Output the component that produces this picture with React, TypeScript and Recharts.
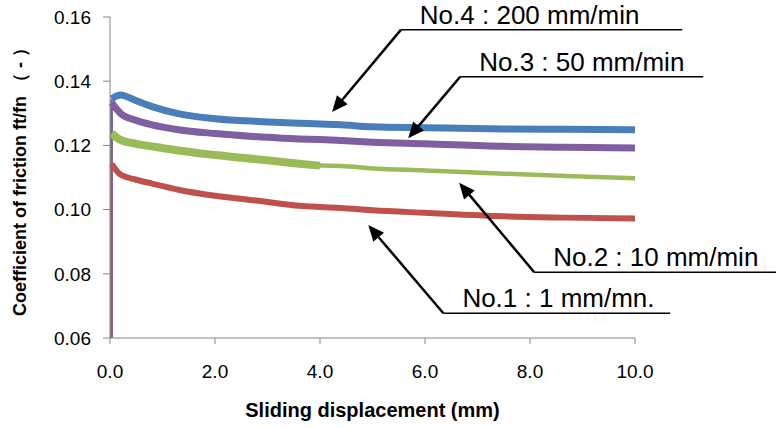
import { LineChart, Line, XAxis, YAxis, ReferenceLine, Label } from "recharts";

// sliding displacement (mm) where the curves were read
const dispMm = [0, 0.03, 0.2, 0.5, 0.8, 1.3, 2.0, 2.9, 3.6, 4.0, 4.4, 5.0, 6.0, 7.5, 8.7, 10];

// coefficient of friction ft/fn per speed
const no1 = [0.06, 0.1142, 0.1109, 0.1093, 0.1081, 0.1062, 0.1043, 0.1026, 0.1012, 0.1008, 0.1005, 0.0998, 0.099, 0.0979, 0.0975, 0.0972];
const no2 = [0.06, 0.1238, 0.1217, 0.1205, 0.1197, 0.1184, 0.117, 0.1155, 0.1143, 0.1137, 0.1136, 0.1128, 0.1122, 0.1112, 0.1105, 0.1098];
const no3 = [0.06, 0.1333, 0.13, 0.1278, 0.1264, 0.1249, 0.1237, 0.1226, 0.122, 0.1218, 0.1215, 0.121, 0.1205, 0.1197, 0.1194, 0.1192];
const no4 = [0.06, 0.1345, 0.1357, 0.1339, 0.1321, 0.1299, 0.1283, 0.1274, 0.1269, 0.1267, 0.1264, 0.1258, 0.1255, 0.1251, 0.125, 0.1249];

const xTicks = [0, 2, 4, 6, 8, 10];
const yTicks = [0.06, 0.08, 0.1, 0.12, 0.14, 0.16];

// callouts: underline from (x, y) to (x2, y), arrow from (x, y) to (tipX, tipY)
const notes = [
  { text: "No.4 : 200 mm/min", x: 5.54, y: 0.156, x2: 10.9, tipX: 4.23, tipY: 0.1304 },
  { text: "No.3 : 50 mm/min", x: 6.67, y: 0.1414, x2: 11.3, tipX: 5.68, tipY: 0.1222 },
  { text: "No.2 : 10 mm/min", x: 8.08, y: 0.0805, x2: 12.7, tipX: 6.65, tipY: 0.1084 },
  { text: "No.1 : 1 mm/mn.", x: 6.35, y: 0.0677, x2: 10.67, tipX: 4.92, tipY: 0.0952 },
];

// curves from the first reading on; the start-up rise is drawn separately as a thin line
const rows = dispMm.slice(1).map((x, j) => {
  const i = j + 1;
  return {
    x,
    no1: no1[i],
    no2a: x <= 4 ? no2[i] : null,
    no2b: x >= 4 ? no2[i] : null,
    no3: no3[i],
    no4: no4[i],
  };
});

const rise = (vals: number[]) => [
  { x: dispMm[1], v: vals[0] },
  { x: dispMm[1], v: vals[1] },
];

const FONT = "'Liberation Sans', Arial, sans-serif";
const AXIS = "#868686";
const RED = "#C0504D";
const GREEN = "#9BBB59";
const PURPLE = "#7F5FA0";
const BLUE = "#4A7EBB";

function Arrow(props: any) {
  const { x1, y1, x2, y2 } = props;
  const a = Math.atan2(y2 - y1, x2 - x1);
  const len = 16;
  const half = 7;
  const bx = x2 - len * Math.cos(a);
  const by = y2 - len * Math.sin(a);
  const px = -Math.sin(a) * half;
  const py = Math.cos(a) * half;
  return (
    <g>
      <line x1={x1} y1={y1} x2={bx} y2={by} stroke="#000" strokeWidth={2.5} />
      <polygon points={`${x2},${y2} ${bx + px},${by + py} ${bx - px},${by - py}`} fill="#000" />
    </g>
  );
}

function underline(text: string) {
  return (props: any) => {
    const { x1, y1, x2 } = props;
    return (
      <g>
        <line x1={x1} y1={y1} x2={x2} y2={y1} stroke="#000" strokeWidth={1.5} />
        <text x={x1 + 19} y={y1 - 6} fontSize={26} fill="#000" fontFamily={FONT}>
          {text}
        </text>
      </g>
    );
  };
}

export default function App() {
  return (
    <div style={{ position: "absolute", left: 0, top: 0, fontFamily: FONT, background: "#fff" }}>
      <LineChart width={776} height={428} data={rows} margin={{ top: 17, right: 141, bottom: 30, left: 0 }}>
        <XAxis
          dataKey="x"
          type="number"
          domain={[0, 10]}
          ticks={xTicks}
          tickFormatter={(v) => Number(v).toFixed(1)}
          stroke={AXIS}
          tickSize={6}
          tickMargin={21}
          height={60}
          tick={{ fill: "#000", fontSize: 19 }}
        >
          <Label
            content={({ viewBox }: any) => (
              <text
                x={viewBox.x + viewBox.width / 2}
                y={viewBox.y + 79}
                textAnchor="middle"
                fontSize={20}
                fontWeight="bold"
                fill="#000"
              >
                Sliding displacement (mm)
              </text>
            )}
          />
        </XAxis>
        <YAxis
          type="number"
          domain={[0.06, 0.16]}
          ticks={yTicks}
          tickFormatter={(v) => Number(v).toFixed(2)}
          stroke={AXIS}
          tickSize={7}
          tickMargin={12}
          width={110}
          tick={{ fill: "#000", fontSize: 19 }}
        >
          <Label
            content={({ viewBox }: any) => {
              const cx = 26;
              const cy = viewBox.y + viewBox.height / 2;
              return (
                <text
                  x={cx}
                  y={cy}
                  transform={`rotate(-90 ${cx} ${cy})`}
                  textAnchor="middle"
                  fontSize={18}
                  fontWeight="bold"
                  fill="#000"
                >
                  Coefficient of friction  ft/fn  （ - ）
                </text>
              );
            }}
          />
        </YAxis>
        <Line data={rise(no4)} dataKey="v" stroke={BLUE} strokeWidth={2.5} dot={false} isAnimationActive={false} />
        <Line data={rise(no2)} dataKey="v" stroke={GREEN} strokeWidth={2.5} dot={false} isAnimationActive={false} />
        <Line data={rise(no1)} dataKey="v" stroke={RED} strokeWidth={2.5} dot={false} isAnimationActive={false} />
        <Line data={rise(no3)} dataKey="v" stroke={PURPLE} strokeWidth={2.5} dot={false} isAnimationActive={false} />
        <Line type="monotone" dataKey="no1" stroke={RED} strokeWidth={6} dot={false} isAnimationActive={false} strokeLinejoin="round" />
        <Line type="monotone" dataKey="no2a" stroke={GREEN} strokeWidth={8} dot={false} isAnimationActive={false} strokeLinejoin="round" />
        <Line type="monotone" dataKey="no2b" stroke={GREEN} strokeWidth={4.5} dot={false} isAnimationActive={false} strokeLinejoin="round" />
        <Line type="monotone" dataKey="no4" stroke={BLUE} strokeWidth={7} dot={false} isAnimationActive={false} strokeLinejoin="round" />
        <Line type="monotone" dataKey="no3" stroke={PURPLE} strokeWidth={7} dot={false} isAnimationActive={false} strokeLinejoin="round" />
        {notes.map((n) => (
          <ReferenceLine
            key={n.text + "u"}
            segment={[{ x: n.x, y: n.y }, { x: n.x2, y: n.y }]}
            ifOverflow="visible"
            shape={underline(n.text)}
          />
        ))}
        {notes.map((n) => (
          <ReferenceLine
            key={n.text + "a"}
            segment={[{ x: n.x, y: n.y }, { x: n.tipX, y: n.tipY }]}
            ifOverflow="visible"
            shape={Arrow}
          />
        ))}
      </LineChart>
    </div>
  );
}
